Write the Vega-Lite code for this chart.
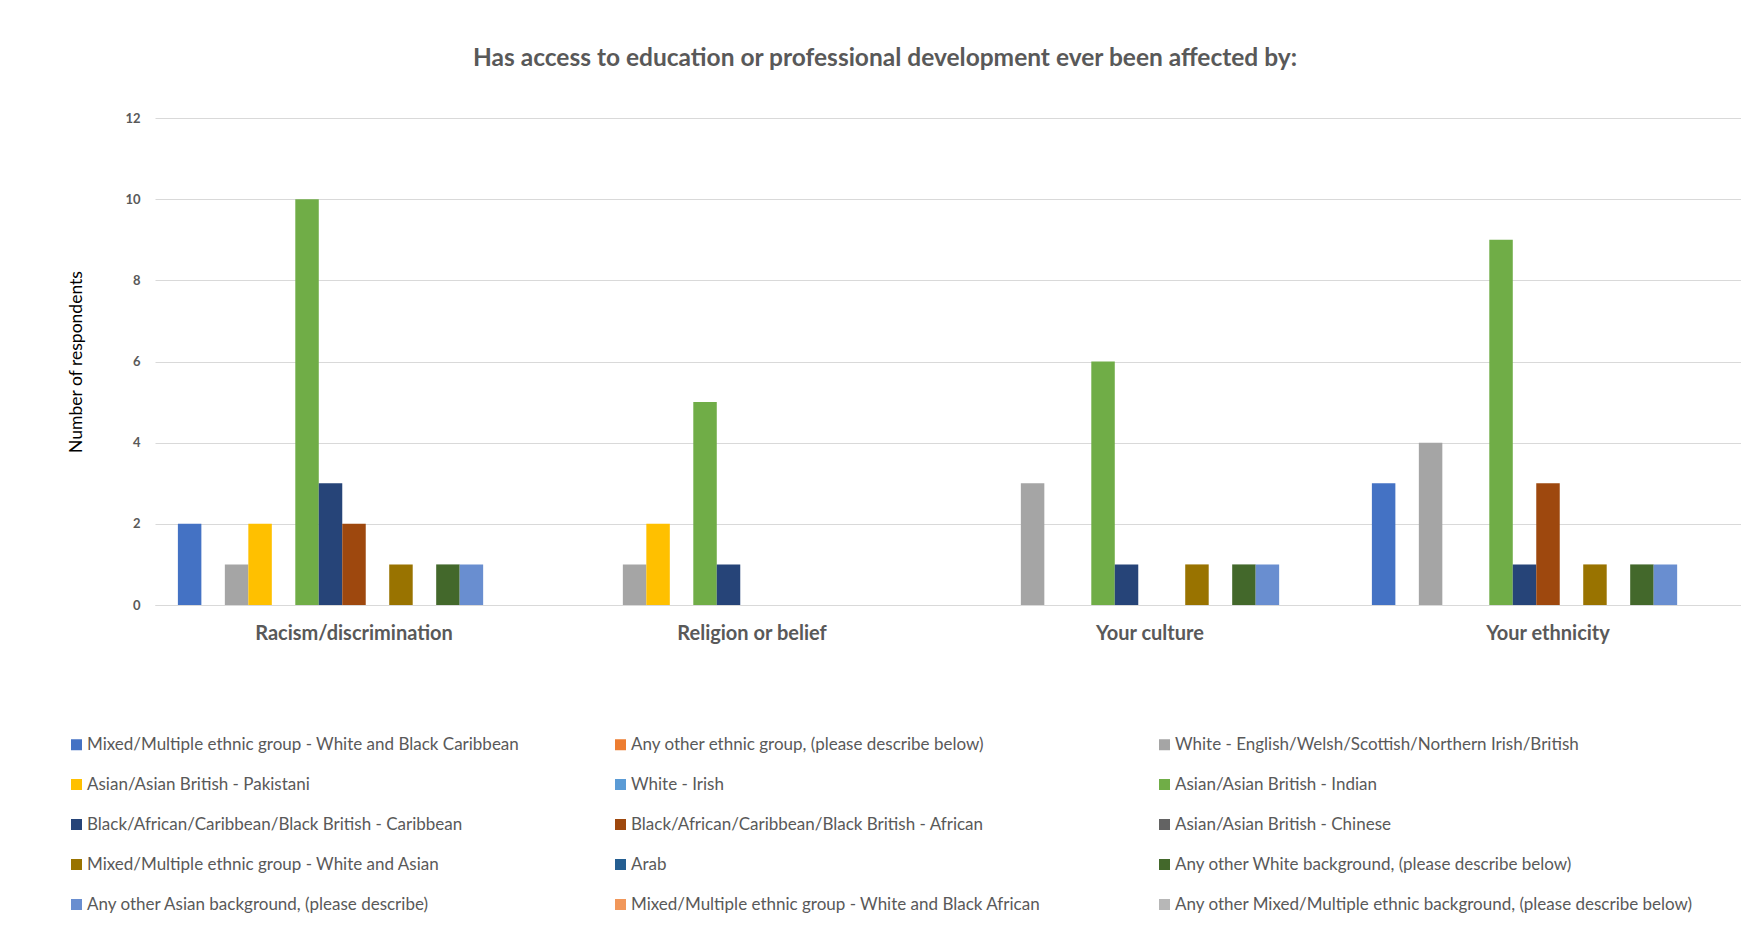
{
  "$schema": "https://vega.github.io/schema/vega-lite/v6.json",
  "width": 1586,
  "height": 487,
  "autosize": {"type": "none"},
  "padding": {"left": 155, "top": 118, "right": 0, "bottom": 330},
  "background": "white",
  "title": {
    "text": "Has access to education or professional development ever been affected by:",
    "font": "Lato",
    "fontSize": 24.5,
    "fontWeight": "bold",
    "color": "#595959",
    "anchor": "middle",
    "dx": -63,
    "offset": 41
  },
  "data": {
    "values": [
      {"issue": "Racism/discrimination", "group": "Mixed/Multiple ethnic group - White and Black Caribbean", "count": 2},
      {"issue": "Racism/discrimination", "group": "Any other ethnic group, (please describe below)", "count": 0},
      {"issue": "Racism/discrimination", "group": "White - English/Welsh/Scottish/Northern Irish/British", "count": 1},
      {"issue": "Racism/discrimination", "group": "Asian/Asian British - Pakistani", "count": 2},
      {"issue": "Racism/discrimination", "group": "White - Irish", "count": 0},
      {"issue": "Racism/discrimination", "group": "Asian/Asian British - Indian", "count": 10},
      {"issue": "Racism/discrimination", "group": "Black/African/Caribbean/Black British - Caribbean", "count": 3},
      {"issue": "Racism/discrimination", "group": "Black/African/Caribbean/Black British - African", "count": 2},
      {"issue": "Racism/discrimination", "group": "Asian/Asian British - Chinese", "count": 0},
      {"issue": "Racism/discrimination", "group": "Mixed/Multiple ethnic group - White and Asian", "count": 1},
      {"issue": "Racism/discrimination", "group": "Arab", "count": 0},
      {"issue": "Racism/discrimination", "group": "Any other White background, (please describe below)", "count": 1},
      {"issue": "Racism/discrimination", "group": "Any other Asian background, (please describe)", "count": 1},
      {"issue": "Racism/discrimination", "group": "Mixed/Multiple ethnic group - White and Black African", "count": 0},
      {"issue": "Racism/discrimination", "group": "Any other Mixed/Multiple ethnic background, (please describe below)", "count": 0},

      {"issue": "Religion or belief", "group": "Mixed/Multiple ethnic group - White and Black Caribbean", "count": 0},
      {"issue": "Religion or belief", "group": "Any other ethnic group, (please describe below)", "count": 0},
      {"issue": "Religion or belief", "group": "White - English/Welsh/Scottish/Northern Irish/British", "count": 1},
      {"issue": "Religion or belief", "group": "Asian/Asian British - Pakistani", "count": 2},
      {"issue": "Religion or belief", "group": "White - Irish", "count": 0},
      {"issue": "Religion or belief", "group": "Asian/Asian British - Indian", "count": 5},
      {"issue": "Religion or belief", "group": "Black/African/Caribbean/Black British - Caribbean", "count": 1},
      {"issue": "Religion or belief", "group": "Black/African/Caribbean/Black British - African", "count": 0},
      {"issue": "Religion or belief", "group": "Asian/Asian British - Chinese", "count": 0},
      {"issue": "Religion or belief", "group": "Mixed/Multiple ethnic group - White and Asian", "count": 0},
      {"issue": "Religion or belief", "group": "Arab", "count": 0},
      {"issue": "Religion or belief", "group": "Any other White background, (please describe below)", "count": 0},
      {"issue": "Religion or belief", "group": "Any other Asian background, (please describe)", "count": 0},
      {"issue": "Religion or belief", "group": "Mixed/Multiple ethnic group - White and Black African", "count": 0},
      {"issue": "Religion or belief", "group": "Any other Mixed/Multiple ethnic background, (please describe below)", "count": 0},

      {"issue": "Your culture", "group": "Mixed/Multiple ethnic group - White and Black Caribbean", "count": 0},
      {"issue": "Your culture", "group": "Any other ethnic group, (please describe below)", "count": 0},
      {"issue": "Your culture", "group": "White - English/Welsh/Scottish/Northern Irish/British", "count": 3},
      {"issue": "Your culture", "group": "Asian/Asian British - Pakistani", "count": 0},
      {"issue": "Your culture", "group": "White - Irish", "count": 0},
      {"issue": "Your culture", "group": "Asian/Asian British - Indian", "count": 6},
      {"issue": "Your culture", "group": "Black/African/Caribbean/Black British - Caribbean", "count": 1},
      {"issue": "Your culture", "group": "Black/African/Caribbean/Black British - African", "count": 0},
      {"issue": "Your culture", "group": "Asian/Asian British - Chinese", "count": 0},
      {"issue": "Your culture", "group": "Mixed/Multiple ethnic group - White and Asian", "count": 1},
      {"issue": "Your culture", "group": "Arab", "count": 0},
      {"issue": "Your culture", "group": "Any other White background, (please describe below)", "count": 1},
      {"issue": "Your culture", "group": "Any other Asian background, (please describe)", "count": 1},
      {"issue": "Your culture", "group": "Mixed/Multiple ethnic group - White and Black African", "count": 0},
      {"issue": "Your culture", "group": "Any other Mixed/Multiple ethnic background, (please describe below)", "count": 0},

      {"issue": "Your ethnicity", "group": "Mixed/Multiple ethnic group - White and Black Caribbean", "count": 3},
      {"issue": "Your ethnicity", "group": "Any other ethnic group, (please describe below)", "count": 0},
      {"issue": "Your ethnicity", "group": "White - English/Welsh/Scottish/Northern Irish/British", "count": 4},
      {"issue": "Your ethnicity", "group": "Asian/Asian British - Pakistani", "count": 0},
      {"issue": "Your ethnicity", "group": "White - Irish", "count": 0},
      {"issue": "Your ethnicity", "group": "Asian/Asian British - Indian", "count": 9},
      {"issue": "Your ethnicity", "group": "Black/African/Caribbean/Black British - Caribbean", "count": 1},
      {"issue": "Your ethnicity", "group": "Black/African/Caribbean/Black British - African", "count": 3},
      {"issue": "Your ethnicity", "group": "Asian/Asian British - Chinese", "count": 0},
      {"issue": "Your ethnicity", "group": "Mixed/Multiple ethnic group - White and Asian", "count": 1},
      {"issue": "Your ethnicity", "group": "Arab", "count": 0},
      {"issue": "Your ethnicity", "group": "Any other White background, (please describe below)", "count": 1},
      {"issue": "Your ethnicity", "group": "Any other Asian background, (please describe)", "count": 1},
      {"issue": "Your ethnicity", "group": "Mixed/Multiple ethnic group - White and Black African", "count": 0},
      {"issue": "Your ethnicity", "group": "Any other Mixed/Multiple ethnic background, (please describe below)", "count": 0}
    ]
  },
  "mark": {"type": "bar"},
  "encoding": {
    "x": {
      "field": "issue",
      "type": "nominal",
      "sort": ["Racism/discrimination", "Religion or belief", "Your culture", "Your ethnicity"],
      "scale": {"range": [0, 1592], "paddingInner": 0.115, "paddingOuter": 0.0575},
      "axis": {
        "title": null,
        "labelAngle": 0,
        "labelFont": "Lato",
        "labelFontSize": 20,
        "labelFontWeight": "bold",
        "labelColor": "#595959",
        "labelLimit": 400,
        "ticks": false,
        "labelPadding": 18,
        "domainColor": "#D9D9D9",
        "domainWidth": 1
      }
    },
    "xOffset": {
      "field": "group",
      "type": "nominal",
      "scale": {
        "domain": [
          "Mixed/Multiple ethnic group - White and Black Caribbean",
          "Any other ethnic group, (please describe below)",
          "White - English/Welsh/Scottish/Northern Irish/British",
          "Asian/Asian British - Pakistani",
          "White - Irish",
          "Asian/Asian British - Indian",
          "Black/African/Caribbean/Black British - Caribbean",
          "Black/African/Caribbean/Black British - African",
          "Asian/Asian British - Chinese",
          "Mixed/Multiple ethnic group - White and Asian",
          "Arab",
          "Any other White background, (please describe below)",
          "Any other Asian background, (please describe)",
          "Mixed/Multiple ethnic group - White and Black African",
          "Any other Mixed/Multiple ethnic background, (please describe below)"
        ],
        "paddingInner": 0,
        "paddingOuter": 0
      }
    },
    "y": {
      "field": "count",
      "type": "quantitative",
      "scale": {"domain": [0, 12]},
      "axis": {
        "values": [0, 2, 4, 6, 8, 10, 12],
        "title": "Number of respondents",
        "titleFont": "Lato",
        "titleFontSize": 17.5,
        "titleFontWeight": "normal",
        "titleColor": "#000000",
        "titlePadding": 39,
        "labelFont": "Lato",
        "labelFontSize": 13,
        "labelFontWeight": "bold",
        "labelColor": "#595959",
        "labelPadding": 15,
        "ticks": false,
        "domain": false,
        "grid": true,
        "gridColor": "#D9D9D9",
        "gridWidth": 1
      }
    },
    "color": {
      "field": "group",
      "type": "nominal",
      "scale": {
        "domain": [
          "Mixed/Multiple ethnic group - White and Black Caribbean",
          "Any other ethnic group, (please describe below)",
          "White - English/Welsh/Scottish/Northern Irish/British",
          "Asian/Asian British - Pakistani",
          "White - Irish",
          "Asian/Asian British - Indian",
          "Black/African/Caribbean/Black British - Caribbean",
          "Black/African/Caribbean/Black British - African",
          "Asian/Asian British - Chinese",
          "Mixed/Multiple ethnic group - White and Asian",
          "Arab",
          "Any other White background, (please describe below)",
          "Any other Asian background, (please describe)",
          "Mixed/Multiple ethnic group - White and Black African",
          "Any other Mixed/Multiple ethnic background, (please describe below)"
        ],
        "range": ["#4472C4", "#ED7D31", "#A5A5A5", "#FFC000", "#5B9BD5", "#70AD47", "#264478", "#9E480E", "#636363", "#997300", "#255E91", "#43682B", "#698ED0", "#F1975A", "#B7B7B7"]
      },
      "legend": {
        "orient": "none",
        "legendX": -87,
        "legendY": 618,
        "direction": "horizontal",
        "columns": 3,
        "title": null,
        "symbolType": "square",
        "symbolSize": 121,
        "symbolStrokeWidth": 0,
        "labelFont": "Lato",
        "labelFontSize": 17,
        "labelColor": "#595959",
        "labelLimit": 700,
        "labelOffset": 2,
        "rowPadding": 22,
        "columnPadding": 7,
        "gridAlign": "all"
      }
    }
  },
  "config": {"view": {"stroke": null}}
}
